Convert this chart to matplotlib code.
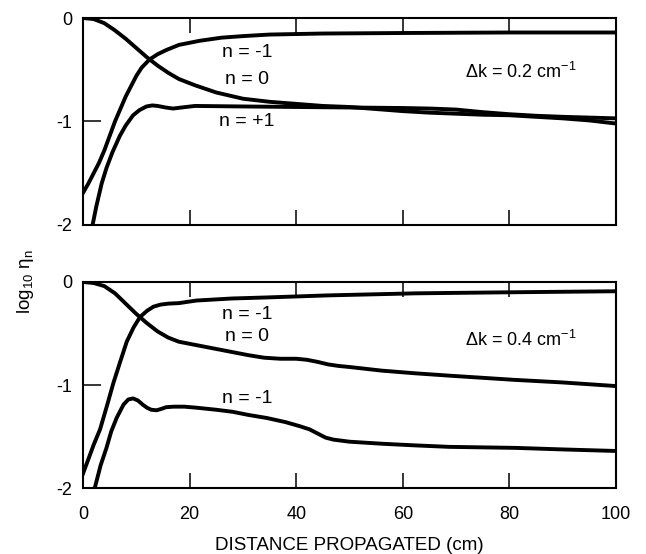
import matplotlib
matplotlib.use("Agg")
import matplotlib.pyplot as plt

plt.rcParams['font.family'] = ['Liberation Sans', 'DejaVu Sans']
plt.rcParams['mathtext.fontset'] = 'custom'
plt.rcParams['mathtext.rm'] = 'Liberation Sans'
plt.rcParams['mathtext.it'] = 'Liberation Sans:italic'
plt.rcParams['axes.unicode_minus'] = False

# top panel, dk = 0.2 cm^-1
top_n0_x = [0, 2, 4, 6, 8, 10, 12, 14, 16, 18, 21, 25, 30, 35, 40, 45, 50, 55, 60, 65, 70, 75, 80, 85, 90, 95, 100]
top_n0_y = [0, -0.01, -0.05, -0.12, -0.20, -0.29, -0.38, -0.46, -0.53, -0.59, -0.65, -0.72, -0.78, -0.81, -0.83,
            -0.85, -0.86, -0.88, -0.90, -0.915, -0.925, -0.935, -0.94, -0.955, -0.97, -0.99, -1.02]
top_nm1_x = [0, 1, 2, 3, 4, 5, 6, 7, 8, 9, 10, 11, 12.5, 14, 15.6, 18, 21.9, 26, 30, 35, 45, 60, 80, 100]
top_nm1_y = [-1.69, -1.6, -1.5, -1.4, -1.28, -1.14, -1.0, -0.88, -0.76, -0.66, -0.56, -0.48, -0.40, -0.35, -0.31,
             -0.26, -0.22, -0.19, -0.175, -0.16, -0.15, -0.145, -0.14, -0.14]
top_np1_x = [1.6, 2.5, 3.5, 4.4, 5.5, 6.9, 8, 9.4, 10.6, 11.9, 13, 14, 15.5, 16.9, 18.5, 21, 30, 40, 50, 60, 65,
             70, 75, 80, 85, 90, 100]
top_np1_y = [-2.05, -1.82, -1.6, -1.45, -1.3, -1.14, -1.04, -0.94, -0.89, -0.855, -0.845, -0.85, -0.865, -0.875,
             -0.865, -0.85, -0.855, -0.86, -0.865, -0.87, -0.875, -0.885, -0.91, -0.93, -0.945, -0.955, -0.97]

# bottom panel, dk = 0.4 cm^-1
bot_n0_x = [0, 2, 4, 6, 8, 10, 12, 14, 16, 18, 21, 25, 28, 31, 34, 37, 40, 42, 44, 46, 48, 50, 56, 62, 69, 75,
            81, 90, 100]
bot_n0_y = [0, -0.01, -0.04, -0.11, -0.21, -0.31, -0.40, -0.48, -0.54, -0.58, -0.61, -0.65, -0.68, -0.71, -0.735,
            -0.745, -0.745, -0.755, -0.775, -0.80, -0.815, -0.825, -0.86, -0.885, -0.91, -0.93, -0.95, -0.975, -1.01]
bot_nm1_x = [0, 1, 2, 3.2, 4.5, 5.7, 7, 8.2, 9.5, 10.7, 12, 13.2, 14.5, 16, 18, 21.3, 28, 34.5, 46, 62.5, 80, 100]
bot_nm1_y = [-1.86, -1.72, -1.58, -1.43, -1.2, -0.98, -0.77, -0.58, -0.44, -0.34, -0.28, -0.24, -0.22, -0.21,
             -0.205, -0.18, -0.16, -0.15, -0.13, -0.11, -0.10, -0.09]
bot_low_x = [1.6, 2.25, 3.3, 4.4, 5.3, 6.3, 7.6, 8.5, 9.4, 10.3, 11.2, 12, 12.8, 13.8, 14.8, 15.6, 17, 19, 21.3,
             25, 28.1, 31, 34.5, 38, 40.7, 42.5, 44, 45.5, 47, 50, 56.2, 62, 68.7, 75, 81.2, 90, 100]
bot_low_y = [-2.05, -1.99, -1.78, -1.61, -1.45, -1.32, -1.19, -1.14, -1.13, -1.15, -1.19, -1.22, -1.24, -1.245,
             -1.23, -1.215, -1.21, -1.21, -1.22, -1.24, -1.26, -1.29, -1.32, -1.36, -1.40, -1.43, -1.47, -1.51,
             -1.53, -1.55, -1.57, -1.585, -1.60, -1.605, -1.61, -1.625, -1.64]

xticks = [0, 20, 40, 60, 80, 100]
yticks = [0, -1, -2]
ytick_labels = ['0', '-1', '-2']

fig = plt.figure(figsize=(6.46, 5.54), dpi=100)
ax1 = fig.add_axes([0.1285, 0.594, 0.825, 0.3735])
ax2 = fig.add_axes([0.1285, 0.119, 0.825, 0.372])

lw = 2.8
ax1.plot(top_n0_x, top_n0_y, 'k-', lw=lw)
ax1.plot(top_nm1_x, top_nm1_y, 'k-', lw=lw)
ax1.plot(top_np1_x, top_np1_y, 'k-', lw=lw)
ax2.plot(bot_n0_x, bot_n0_y, 'k-', lw=lw)
ax2.plot(bot_nm1_x, bot_nm1_y, 'k-', lw=lw)
ax2.plot(bot_low_x, bot_low_y, 'k-', lw=lw)

for ax in (ax1, ax2):
    ax.set_xlim(0, 100)
    ax.set_ylim(-2, 0)
    ax.set_xticks(xticks)
    ax.set_yticks(yticks)
    ax.set_yticklabels(ytick_labels)
    ax.tick_params(axis='x', direction='in', top=True, bottom=True, length=11, width=1.1, pad=13, labelsize=13)
    ax.tick_params(axis='y', direction='in', left=True, right=False, length=13, width=1.1, pad=8, labelsize=13)
    for s in ax.spines.values():
        s.set_linewidth(1.5)
ax1.tick_params(axis='x', labelbottom=False)

fs = 14
ax1.text(30.8, -0.33, 'n = -1', ha='center', va='center', fontsize=fs)
ax1.text(30.8, -0.59, 'n = 0', ha='center', va='center', fontsize=fs)
ax1.text(30.8, -1.0, 'n = +1', ha='center', va='center', fontsize=fs)
ax1.text(82.2, -0.52, r'$\Delta$k = 0.2 cm$^{-1}$', ha='center', va='center', fontsize=13)

ax2.text(30.8, -0.32, 'n = -1', ha='center', va='center', fontsize=fs)
ax2.text(30.8, -0.53, 'n = 0', ha='center', va='center', fontsize=fs)
ax2.text(30.8, -1.13, 'n = -1', ha='center', va='center', fontsize=fs)
ax2.text(82.2, -0.56, r'$\Delta$k = 0.4 cm$^{-1}$', ha='center', va='center', fontsize=13)

ax2.set_xlabel('DISTANCE PROPAGATED (cm)', fontsize=13.5, labelpad=10)
fig.text(0.039, 0.491, r'log$_{10}$ η$_{\mathrm{n}}$', rotation=90, ha='center', va='center', fontsize=13.5)

fig.savefig('out.png', dpi=100)
